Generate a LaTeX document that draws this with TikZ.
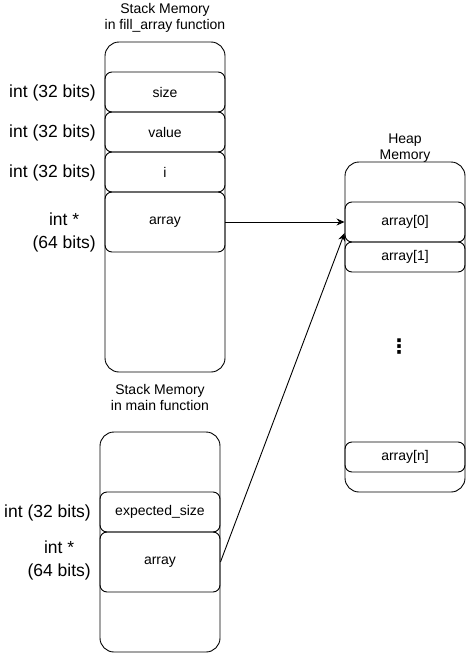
\documentclass[tikz,border=0pt]{standalone}
\usepackage{fontspec}
\setmainfont{Liberation Sans}
\newfontfamily\dotsfont{DejaVu Sans}
\usetikzlibrary{positioning, arrows.meta}

\begin{document}
\begin{tikzpicture}[x=1pt, y=-1pt, line width=0.9pt,
    frame/.style={draw, rounded corners=14pt, minimum width=120pt, minimum height=330pt, inner sep=0pt},
    cell/.style={draw, rounded corners=7pt, minimum width=120pt, minimum height=40pt, inner sep=0pt, font=\fontsize{14}{16}\selectfont},
    bits/.style={align=center, font=\fontsize{17.5}{23}\selectfont},
    title/.style={align=center, font=\fontsize{14}{16}\selectfont},
    ptr/.style={-{Stealth[length=8pt, width=7pt]}}]
    \useasboundingbox (0,0) rectangle (466,653);

    % Stack of fill_array
    \node[title] (filltitle) at (165,18) {Stack Memory\\in fill\_array function};
    \node[frame] (fillstack) at (165,207) {};
    \node[cell] (size) at (165,92) {size};
    \node[cell] (value) at (165,132) {value};
    \node[cell] (iv) at (165,172) {i};
    \node[cell, minimum height=60pt] (fillarr) at (165,222) {array};

    % Sizes of the fill_array variables
    \node[bits, left=5pt of size, yshift=-1pt] (sizebits) {int (32 bits)};
    \node[bits, left=5pt of value, yshift=-1pt] (valuebits) {int (32 bits)};
    \node[bits, left=5pt of iv, yshift=-1pt] (ibits) {int (32 bits)};
    \node[bits, left=5pt of fillarr, yshift=-10pt] (fillarrbits) {int *\\(64 bits)};

    % Stack of main
    \node[title] (maintitle) at (160,397) {Stack Memory\\in main function};
    \node[frame, minimum height=220pt] (mainstack) at (160,542) {};
    \node[cell] (expsize) at (160,512) {expected\_size};
    \node[cell, minimum height=60pt] (mainarr) at (160,562) {array};

    % Sizes of the main variables
    \node[bits, left=5pt of expsize, yshift=-1pt] (expbits) {int (32 bits)};
    \node[bits, left=5pt of mainarr, yshift=2pt] (mainarrbits) {int *\\(64 bits)};

    % Heap
    \node[title] (heaptitle) at (405,148) {Heap\\Memory};
    \node[frame] (heap) at (405,327) {};
    \node[cell] (arr0) at (405,222) {array[0]};
    \node[cell, minimum height=30pt] (arr1) at (405,257) {array[1]};
    \node[font=\dotsfont\bfseries\fontsize{20}{20}\selectfont] (dots) at (399,347) {⋮};
    \node[cell, minimum height=30pt] (arrn) at (405,457) {array[n]};

    % Pointers into the heap
    \draw[ptr] (fillarr.east) -- (arr0.west);
    \draw[ptr] (mainarr.east) -- ([yshift=-11pt]arr0.west);
\end{tikzpicture}
\end{document}
